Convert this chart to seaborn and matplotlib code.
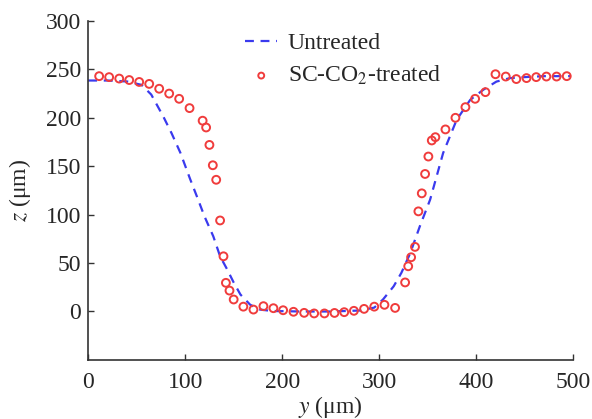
import matplotlib
matplotlib.use("Agg")
import matplotlib.pyplot as plt
import seaborn as sns
import pandas as pd

# Untreated profile (dashed line)
untreated_y = [0, 20, 40, 55, 65, 77.6, 86, 95, 105, 112, 120, 129, 136, 143, 150, 157, 167, 177,
               190, 220, 250, 280, 295, 304, 315, 323, 332, 342, 352.6, 366, 380, 394, 407.5,
               421, 435, 450, 470, 497]
untreated_z = [238.5, 238.5, 237.5, 234, 224, 201, 184, 164, 137, 119, 98, 77.6, 57, 44, 30, 17.5, 7, 2,
               0.5, 0, 0, 1, 4, 12.4, 26, 40, 60, 88, 115.5, 163.6, 198, 218.6, 229,
               237.4, 241, 242, 243, 243]

# SC-CO2-treated profile (circles)
treated_y = [11.3, 21.6, 32, 42.3, 52.6, 62.9, 73.2, 83.5, 93.8, 104.5, 118, 121.6, 125, 128.5, 132,
             136, 139.5, 142, 145.7, 150, 160, 170.4, 180.7, 191, 201, 211.7, 222.7, 233, 243.6,
             254, 264, 274, 284.5, 295, 305.5, 316.5, 326.8, 330, 333, 337, 340.5, 344,
             347.4, 350.8, 354.3, 358, 368.4, 378.7, 389, 399, 409.6, 420, 430.6, 441.5, 452,
             462, 472.5, 483, 493.5]
treated_z = [243, 242, 240.5, 239, 237, 235, 230, 225, 219.6, 210, 197, 190, 172, 151, 136,
             94, 57, 29.6, 21.6, 12.4, 5, 2, 5.5, 3.4, 1.3, -0.3, -1.4, -2, -2,
             -1.5, -0.7, 0.7, 2.7, 5, 6.9, 3.7, 30, 46.7, 56, 66.7, 103.4, 122,
             142, 160, 176.6, 180, 188, 200, 211, 219.6, 226.5, 245, 242.6, 240, 241,
             242, 242.6, 242.6, 243]

x_ticks = [0, 100, 200, 300, 400, 500]
y_ticks = [0, 50, 100, 150, 200, 250, 300]

sns.set_theme(style="white")
plt.rcParams['font.family'] = ['Liberation Serif', 'DejaVu Serif']
plt.rcParams['mathtext.fontset'] = 'stix'

FS = 17

fig = plt.figure(figsize=(5.92, 4.19), dpi=100)
ax = fig.add_axes([0.149, 0.141, 0.819, 0.809])

df_u = pd.DataFrame({"y": untreated_y, "z": untreated_z})
df_t = pd.DataFrame({"y": treated_y, "z": treated_z})

sns.lineplot(data=df_u, x="y", y="z", ax=ax, color="#3a3aee", linestyle=(0, (4, 3)),
             linewidth=1.6, label="Untreated", sort=False)
sns.scatterplot(data=df_t, x="y", y="z", ax=ax, marker="o", s=32, facecolors="none",
                edgecolor="#f03c3c", linewidth=1.4, label="SC-CO$_2$-treated", zorder=3)

ax.set_xlim(0, 500)
ax.set_ylim(-50, 300)
ax.set_xticks(x_ticks)
ax.set_yticks(y_ticks)
ax.set_xlabel("$y$ (μm)", fontsize=FS, labelpad=1)
ax.set_ylabel("$z$ (μm)", fontsize=FS, labelpad=9)
ax.tick_params(direction="in", length=4, width=1, labelsize=FS, color="#333333",
               bottom=True, left=True)
ax.tick_params(axis="x", pad=8.5)
ax.tick_params(axis="y", pad=5)
for s in ["top", "right"]:
    ax.spines[s].set_visible(False)
for s in ["left", "bottom"]:
    ax.spines[s].set_color("#333333")
    ax.spines[s].set_linewidth(1.2)

leg = ax.legend(loc="upper left", bbox_to_anchor=(0.324, 0.965), frameon=False, fontsize=FS,
                handlelength=1.35, handletextpad=0.45, labelspacing=0.4,
                borderpad=0, borderaxespad=0, markerscale=0.75)

fig.savefig("out.png", dpi=100)
